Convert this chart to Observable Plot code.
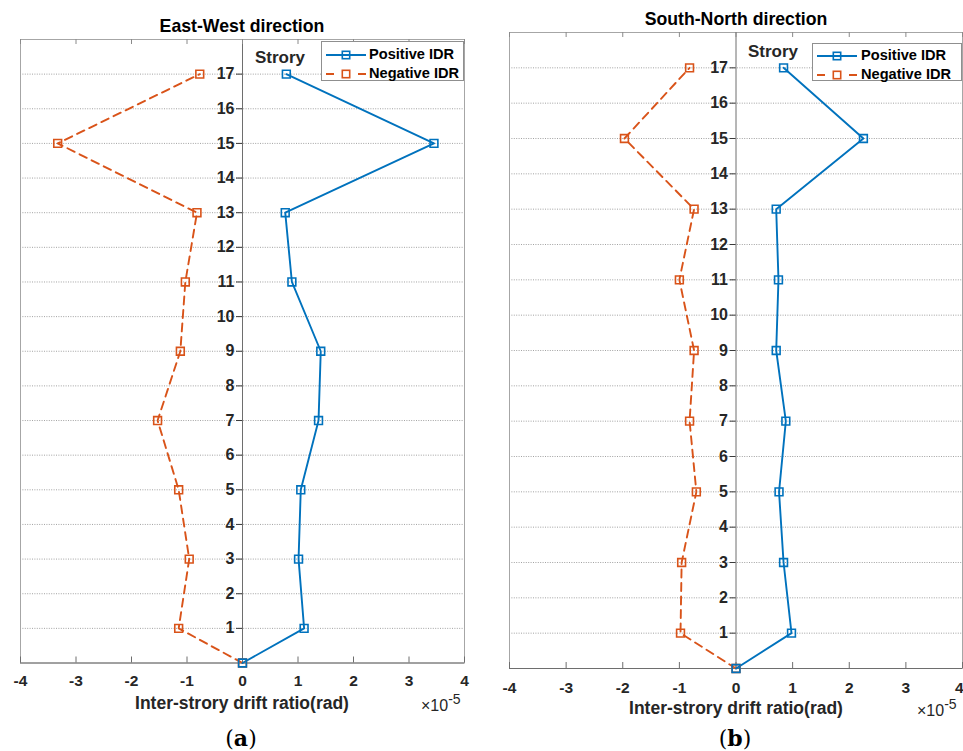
<!DOCTYPE html>
<html><head><meta charset="utf-8">
<script src="https://cdn.jsdelivr.net/npm/d3@7"></script>
<script src="https://cdn.jsdelivr.net/npm/@observablehq/plot@0.6"></script>
<style>
body{margin:0;background:#fff;font-family:"Liberation Sans",Arial,Helvetica,sans-serif;color:#262626;}
#wrap{position:relative;width:963px;height:751px;overflow:hidden;background:#fff;}
.abs{position:absolute;white-space:nowrap;line-height:1;}
.title{font-weight:bold;font-size:17.7px;color:#000;transform:translateX(-50%);}
.xlab{font-weight:bold;font-size:17.5px;color:#262626;transform:translateX(-50%);}
.strory{font-weight:bold;font-size:17px;color:#262626;}
.exp{font-size:16px;color:#262626;}
.exp sup{font-size:14px;vertical-align:0;position:relative;top:-7px;}
.cap{font-family:"DejaVu Serif","Liberation Serif",serif;font-size:22px;color:#000;transform:translateX(-50%);}
.legend{background:#fff;border:1px solid #8f8f8f;box-sizing:border-box;}
.legend .row{position:absolute;left:0;font-weight:bold;font-size:14.6px;color:#000;}
.panel{position:absolute;}
</style></head><body><div id="wrap"></div>
<script>
// ---- data ----
const stories = [0, 1, 3, 5, 7, 9, 11, 13, 15, 17];
const ewPositive = [0, 1.11, 1.01, 1.05, 1.37, 1.41, 0.89, 0.77, 3.45, 0.79];
const ewNegative = [0, -1.15, -0.96, -1.15, -1.53, -1.12, -1.03, -0.82, -3.33, -0.77];
const snPositive = [0, 0.98, 0.84, 0.76, 0.88, 0.71, 0.75, 0.71, 2.25, 0.84];
const snNegative = [0, -0.98, -0.96, -0.70, -0.82, -0.74, -1.00, -0.74, -1.97, -0.82];
const xTicks = [-4, -3, -2, -1, 0, 1, 2, 3, 4];
const storyTicks = [1, 2, 3, 4, 5, 6, 7, 8, 9, 10, 11, 12, 13, 14, 15, 16, 17];
const seriesNames = ["Positive IDR", "Negative IDR"];
const titles = ["East-West direction", "South-North direction"];
const captions = ["a", "b"];
const xLabel = "Inter-strory drift ratio(rad)";
const yLabel = "Strory";

const BLUE = "#0072BD", ORANGE = "#D95319";
const wrap = document.getElementById("wrap");
const fmt = d => (d < 0 ? "-" + Math.abs(d) : String(d));

function panel(pos, neg, c) {
  const rows = stories.map((s, i) => ({story: s, pos: pos[i], neg: neg[i]}));
  const lastTick = xTicks[xTicks.length - 1];
  const mainTicks = c.clipLast ? xTicks.slice(0, -1) : xTicks;
  const fig = Plot.plot({
    width: c.width, height: c.height,
    marginLeft: c.ml, marginRight: c.mr, marginTop: c.mt, marginBottom: c.mb,
    x: {domain: [-4, 4]},
    y: {domain: [0, 18], axis: null},
    style: {fontFamily: '"Liberation Sans", Arial, sans-serif', overflow: "visible", background: "transparent"},
    marks: [
      Plot.ruleY(storyTicks, {stroke: "#8a8a8a", strokeWidth: 0.8, strokeDasharray: "1,1.4"}),
      Plot.frame({stroke: "#a6a6a6"}),
      Plot.ruleY([0], {stroke: "#6e6e6e"}),
      Plot.ruleX([0], {stroke: "#6e6e6e"}),
      Plot.ruleX(xTicks, {y1: 0, y2: 0, insetTop: -6, stroke: "#6e6e6e"}),
      Plot.ruleX(xTicks, {y1: 18, y2: 18, insetBottom: -5, stroke: "#8a8a8a"}),
      Plot.ruleY(storyTicks, {x1: 0, x2: 0, insetLeft: -6, stroke: "#3a3a3a"}),
      Plot.text(storyTicks, {x: 0, y: d => d, text: d => String(d), dx: -8, textAnchor: "end",
        fontWeight: "bold", fontSize: 16, fill: "#262626"}),
      Plot.axisX(mainTicks, {anchor: "bottom", tickSize: 0, tickPadding: c.tp, fontSize: 15.5,
        fontWeight: "bold", fill: "#262626", label: null, tickFormat: fmt}),
      c.clipLast ? Plot.text([lastTick], {x: d => d, y: 0, text: fmt, lineAnchor: "top", dy: c.tp,
        textAnchor: "end", dx: 1, fontSize: 15.5, fontWeight: "bold", fill: "#262626"}) : null,
      Plot.line(rows, {x: "neg", y: "story", stroke: ORANGE, strokeWidth: 1.9, strokeDasharray: "8,5.5"}),
      Plot.line(rows, {x: "pos", y: "story", stroke: BLUE, strokeWidth: 1.9}),
      Plot.dot(rows, {x: "neg", y: "story", symbol: "square", r: 4.4, stroke: ORANGE, fill: "none", strokeWidth: 1.6}),
      Plot.dot(rows, {x: "pos", y: "story", symbol: "square", r: 4.4, stroke: BLUE, fill: "none", strokeWidth: 1.6})
    ]
  });
  fig.classList.add("panel");
  fig.style.left = c.left + "px";
  fig.style.top = c.top + "px";
  wrap.appendChild(fig);
}

function addText(cls, html, left, baseline, size) {
  const d = document.createElement("div");
  d.className = "abs " + cls;
  d.innerHTML = html;
  d.style.left = left + "px";
  d.style.top = (baseline - 0.8465 * size) + "px";
  wrap.appendChild(d);
  return d;
}

function legend(left, top, w, h, swX, txtX, rows) {
  const L = document.createElement("div");
  L.className = "abs legend";
  Object.assign(L.style, {left: left + "px", top: top + "px", width: w + "px", height: h + "px"});
  seriesNames.forEach((name, i) => {
    const cy = rows[i] - top;
    const col = i === 0 ? BLUE : ORANGE;
    const dash = i === 0 ? "" : `stroke-dasharray="8,24"`;
    const sv = `<svg width="44" height="14" style="position:absolute;left:${swX - left}px;top:${cy - 7}px;overflow:visible">
      <line x1="0" y1="7" x2="40" y2="7" stroke="${col}" stroke-width="1.9" ${dash}/>
      <rect x="16.3" y="3.3" width="7.4" height="7.4" fill="none" stroke="${col}" stroke-width="1.6"/></svg>`;
    L.insertAdjacentHTML("beforeend", sv);
    const t = document.createElement("div");
    t.className = "row";
    t.textContent = name;
    t.style.left = (txtX - left) + "px";
    t.style.top = (cy - 8) + "px";
    L.appendChild(t);
  });
  wrap.appendChild(L);
}

// Panel (a)
panel(ewPositive, ewNegative, {left: 0, top: 0, width: 480, height: 690, ml: 20, mr: 16, mt: 39, mb: 27.5, tp: 12, clipLast: false});
// Panel (b)
panel(snPositive, snNegative, {left: 480, top: 0, width: 483, height: 700, ml: 29, mr: 1, mt: 32, mb: 32, tp: 13, clipLast: true});

// titles
addText("title", titles[0], 242, 33, 17.7);
addText("title", titles[1], 736, 26, 17.7);
// Storey labels
addText("strory", yLabel, 255, 63, 17);
addText("strory", yLabel, 748, 57, 17);
// legends
legend(321, 41, 143, 40, 325, 368, [53.5, 72.5]);
legend(812, 43, 150, 38, 816, 860, [55, 73.5]);
// x labels
addText("xlab", xLabel, 242, 710, 17.5);
addText("xlab", xLabel, 736, 715, 17.5);
addText("exp", "&times;10<sup>-5</sup>", 421, 712, 16);
addText("exp", "&times;10<sup>-5</sup>", 917, 717, 16);
// captions
addText("cap", "(<b>" + captions[0] + "</b>)", 241, 746, 22);
addText("cap", "(<b>" + captions[1] + "</b>)", 735, 746, 22);
</script></body></html>
